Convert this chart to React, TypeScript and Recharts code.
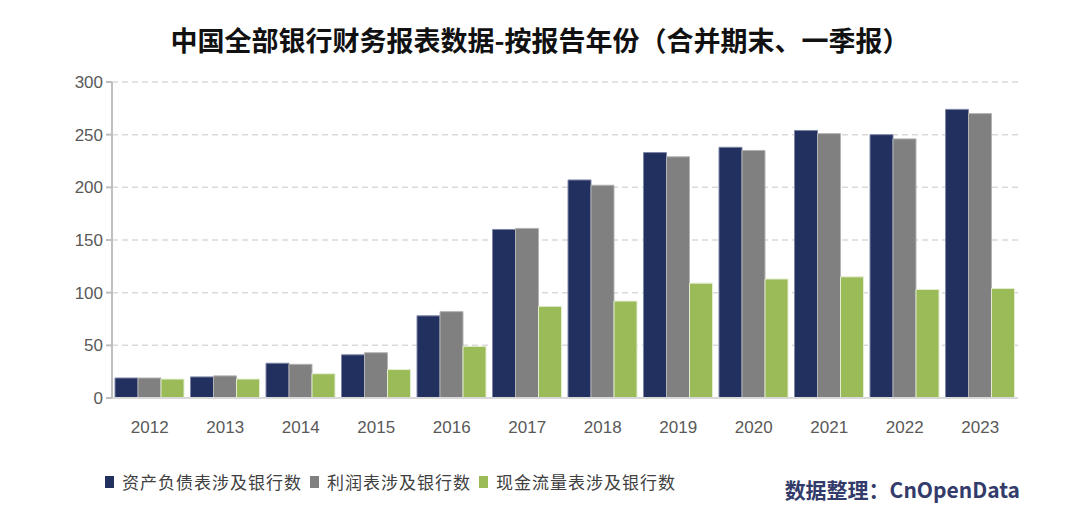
import { BarChart, Bar, XAxis, YAxis, CartesianGrid } from 'recharts'

const years = ['2012', '2013', '2014', '2015', '2016', '2017', '2018', '2019', '2020', '2021', '2022', '2023']
const balanceSheet = [19, 20, 33, 41, 78, 160, 207, 233, 238, 254, 250, 274]
const incomeStatement = [19, 21, 32, 43, 82, 161, 202, 229, 235, 251, 246, 270]
const cashFlow = [18, 18, 23, 27, 49, 87, 92, 109, 113, 115, 103, 104]
const yTicks = [0, 50, 100, 150, 200, 250, 300]

const series = [
  { key: 'balance', name: '资产负债表涉及银行数', color: '#223060', stroke: '#7f86a6' },
  { key: 'income', name: '利润表涉及银行数', color: '#808080', stroke: '#b3b3b3' },
  { key: 'cash', name: '现金流量表涉及银行数', color: '#9bbb59', stroke: '#e3edd0' },
]

const data = years.map((year, i) => ({
  year,
  balance: balanceSheet[i],
  income: incomeStatement[i],
  cash: cashFlow[i],
}))

const font = '"Noto Sans CJK SC", "Noto Sans", sans-serif'
const tickFont = '"Liberation Sans", Arial, sans-serif'

export default function App() {
  return (
    <div
      style={{
        position: 'absolute',
        left: 0,
        top: 0,
        width: 1080,
        height: 515,
        background: '#ffffff',
        fontFamily: font,
        overflow: 'hidden',
      }}
    >
      <div
        style={{
          position: 'absolute',
          top: 20,
          left: 0,
          width: 1080,
          textAlign: 'center',
          fontSize: 27,
          fontWeight: 700,
          color: '#111111',
          lineHeight: '40px',
        }}
      >
        中国全部银行财务报表数据-按报告年份（合并期末、一季报）
      </div>
      <div style={{ position: 'absolute', left: 0, top: 0 }}>
        <BarChart
          width={1080}
          height={515}
          data={data}
          margin={{ top: 82, right: 62, bottom: 87, left: 52 }}
          barCategoryGap={3}
          barGap={0}
        >
          <CartesianGrid vertical={false} stroke="#d9d9d9" strokeDasharray="6 4" strokeWidth={1.5} />
          <XAxis
            dataKey="year"
            height={30}
            tickLine={false}
            axisLine={{ stroke: '#d9d9d9', strokeWidth: 2 }}
            tick={{ fontSize: 17, fill: '#595959', fontFamily: tickFont }}
            tickMargin={17}
          />
          <YAxis
            width={60}
            domain={[0, 300]}
            ticks={yTicks}
            interval={0}
            axisLine={{ stroke: '#bfbfbf', strokeWidth: 2 }}
            tickLine={{ stroke: '#bfbfbf', strokeWidth: 2 }}
            tickSize={6}
            tickMargin={3}
            tick={{ fontSize: 17, fill: '#595959', fontFamily: tickFont }}
          />
          {series.map((s) => (
            <Bar
              key={s.key}
              dataKey={s.key}
              name={s.name}
              fill={s.color}
              stroke={s.stroke}
              strokeWidth={1}
              isAnimationActive={false}
            />
          ))}
        </BarChart>
      </div>
      <div
        style={{
          position: 'absolute',
          left: 105,
          top: 471,
          display: 'flex',
          alignItems: 'center',
          fontSize: 17,
          letterSpacing: 1,
          color: '#404040',
          lineHeight: '22px',
        }}
      >
        {series.map((s) => (
          <div key={s.key} style={{ display: 'flex', alignItems: 'center', marginRight: 8 }}>
            <span
              style={{ display: 'inline-block', width: 9, height: 12, background: s.color, marginRight: 8 }}
            />
            <span>{s.name}</span>
          </div>
        ))}
      </div>
      <div
        style={{
          position: 'absolute',
          right: 60,
          top: 475,
          fontSize: 21,
          fontWeight: 700,
          color: '#333b6b',
          lineHeight: '28px',
        }}
      >
        数据整理：CnOpenData
      </div>
    </div>
  )
}
